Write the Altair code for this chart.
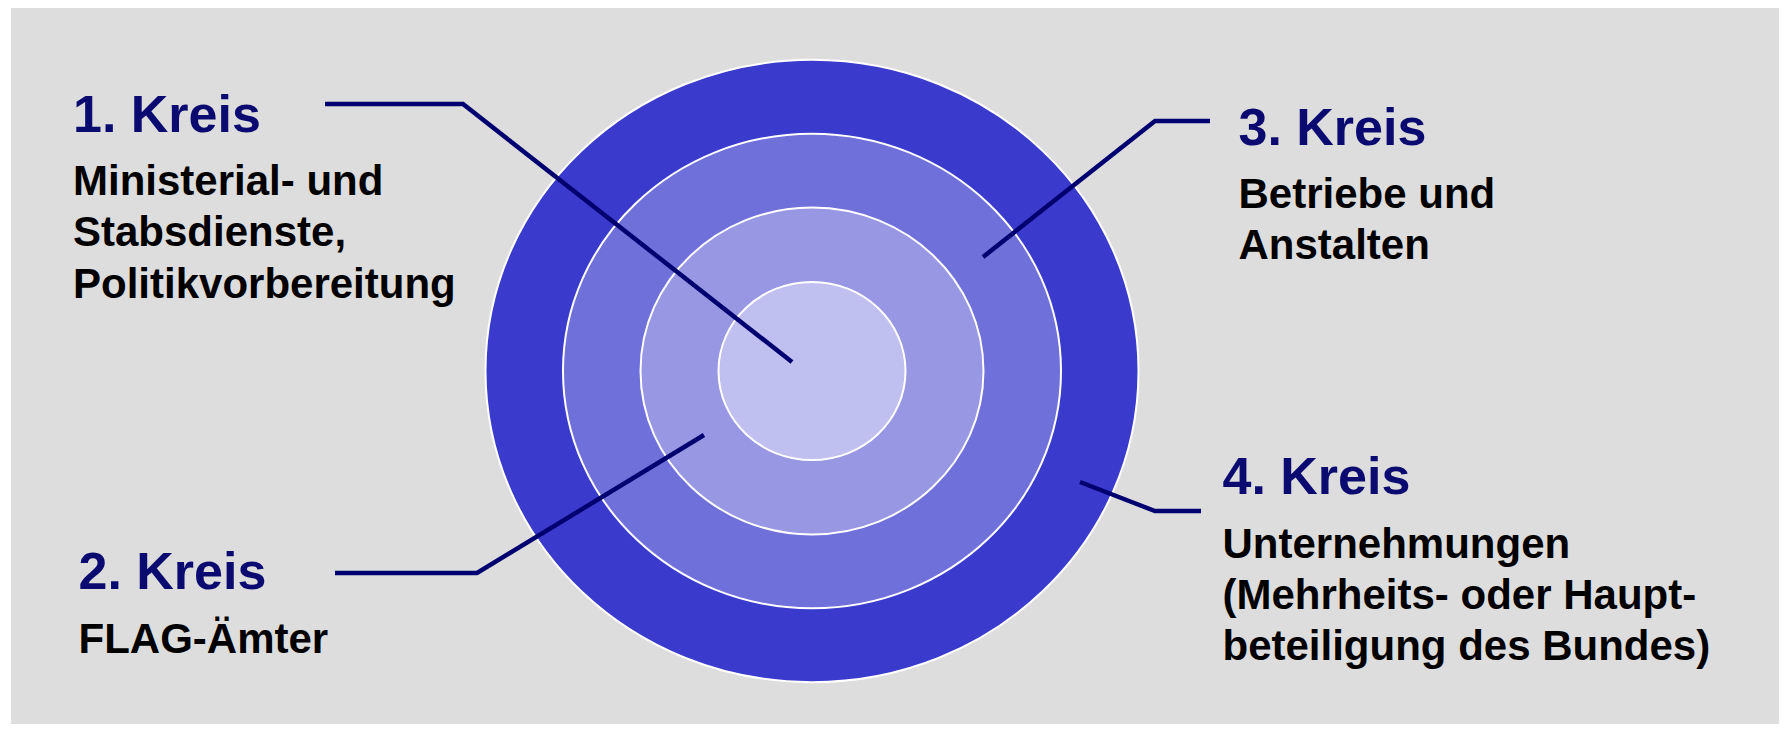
import altair as alt
import pandas as pd

# ---- data ----
ring_names = ["4. Kreis", "3. Kreis", "2. Kreis", "1. Kreis"]
ring_rx = [326.5, 249.0, 171.5, 93.5]
ring_colors = ["#3A3ACC", "#7070DA", "#9797E3", "#BFBFF0"]
center_x = 812
center_y = 371

titles = ["1. Kreis", "2. Kreis", "3. Kreis", "4. Kreis"]
title_x = [73, 78.5, 1238.5, 1222.5]
title_y = [131.7, 589.3, 145, 494.3]

bodies = [
    ["Ministerial- und", "Stabsdienste,", "Politikvorbereitung"],
    ["FLAG-Ämter"],
    ["Betriebe und", "Anstalten"],
    ["Unternehmungen", "(Mehrheits- oder Haupt-", "beteiligung des Bundes)"],
]
body_y = [195, 653.3, 207.7, 557.7]

leader_x = [[325, 463, 792], [335, 477, 704], [1210, 1155, 983], [1201, 1155, 1080]]
leader_y = [[104, 104, 362], [573, 573, 435], [121, 121, 257], [511, 511, 482]]

# ---- tables ----
rings = pd.DataFrame({
    "name": ring_names,
    "rx": ring_rx,
    "color": ring_colors,
    "cx": [center_x] * 4,
    "cy": [center_y] * 4,
})
texts = pd.DataFrame({"title": titles, "x": title_x, "y": title_y})
body_df = pd.DataFrame({"text": bodies, "x": title_x, "y": body_y})
lead_rows = []
for i, t in enumerate(titles):
    for j in range(3):
        lead_rows.append({"label": t, "seq": j, "x": leader_x[i][j], "y": leader_y[i][j]})
leads = pd.DataFrame(lead_rows)

W, H = 1771, 716
xs = alt.Scale(domain=[8, 8 + W], nice=False, zero=False)
ys = alt.Scale(domain=[8, 8 + H], nice=False, zero=False, reverse=True)

bg = alt.Chart(pd.DataFrame({"a": [0]})).mark_rect(color="#DDDDDD").encode(
    x=alt.value(3), x2=alt.value(W), y=alt.value(0), y2=alt.value(H)
)

ellipse_path = "M -1 0 A 1 0.953 0 1 1 1 0 A 1 0.953 0 1 1 -1 0 Z"

circles = alt.Chart(rings).transform_calculate(
    size="pow(2 * datum.rx, 2)"
).mark_point(
    shape=ellipse_path, filled=True, stroke="white", strokeWidth=2, opacity=1
).encode(
    x=alt.X("cx:Q", scale=xs, axis=None),
    y=alt.Y("cy:Q", scale=ys, axis=None),
    size=alt.Size("size:Q", scale=None, legend=None),
    fill=alt.Fill("color:N", scale=None, legend=None),
    order=alt.Order("rx:Q", sort="descending"),
)

lines = alt.Chart(leads).mark_line(
    color="#000070", strokeWidth=4.5, strokeCap="butt", strokeJoin="miter"
).encode(
    x=alt.X("x:Q", scale=xs, axis=None),
    y=alt.Y("y:Q", scale=ys, axis=None),
    detail="label:N",
    order="seq:Q",
)

title_text = alt.Chart(texts).mark_text(
    align="left", baseline="alphabetic", font="Liberation Sans",
    fontWeight="bold", fontSize=52, color="#0A0A70"
).encode(
    x=alt.X("x:Q", scale=xs, axis=None),
    y=alt.Y("y:Q", scale=ys, axis=None),
    text="title:N",
)

body_text = alt.Chart(body_df).mark_text(
    align="left", baseline="alphabetic", font="Liberation Sans",
    fontWeight="bold", fontSize=42, color="#000000", lineHeight=51.3
).encode(
    x=alt.X("x:Q", scale=xs, axis=None),
    y=alt.Y("y:Q", scale=ys, axis=None),
    text="text",
)

chart = alt.layer(bg, circles, lines, title_text, body_text).properties(
    width=W, height=H, padding=0, autosize=alt.AutoSizeParams(type="none"),
    background="white"
).configure_view(stroke=None)

chart.save("out.html", embed_options={"renderer": "svg", "actions": False})
